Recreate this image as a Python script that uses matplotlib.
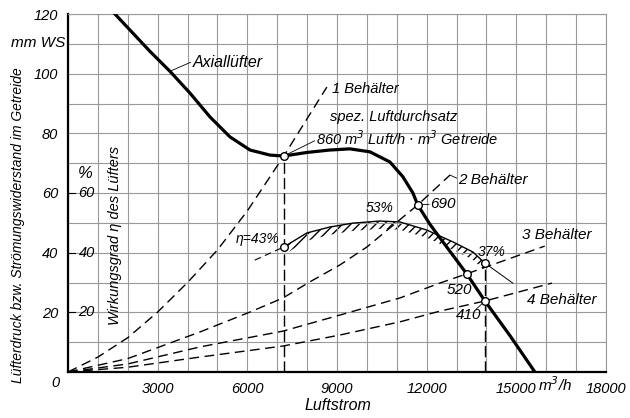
import numpy as np
import matplotlib
matplotlib.use("Agg")
from matplotlib import pyplot as plt

plt.rcParams['font.family'] = ['Liberation Sans', 'DejaVu Sans']
plt.rcParams['font.style'] = 'italic'
plt.rcParams['hatch.linewidth'] = 1.0

# Axiallüfter characteristic (m3/h, mm WS)
fan_q = [1570, 2740, 3410, 4080, 4750, 5420, 6090, 6760, 7220, 8000, 8760, 9430,
         10100, 10770, 11200, 11540, 11700, 12110, 12500, 13340, 13950, 14800, 15620]
fan_p = [120, 107.5, 100.8, 93.5, 85.5, 78.8, 74.4, 72.7, 72.4, 73.6, 74.4, 74.8,
         73.8, 70.4, 65.5, 60, 56, 49.5, 44.2, 32.9, 23.8, 12, 0]

# grain resistance for 1..4 containers
b1_q = [0, 1000, 2000, 3000, 4000, 5000, 6000, 7220, 8660]
b1_p = [0, 5, 11.5, 20.1, 30, 40.9, 54, 72.4, 95.5]
b2_q = [0, 2000, 4410, 6090, 7190, 8090, 9100, 10000, 11700, 12780]
b2_p = [0, 4.5, 13.4, 20.1, 24.8, 30.2, 35.9, 41.9, 56, 66]
b3_q = [0, 2000, 4410, 7190, 9100, 11100, 12440, 13340, 15950]
b3_p = [0, 2.7, 8.4, 13.7, 19.1, 24.8, 29.8, 32.9, 42.2]
b4_q = [0, 2000, 4410, 7190, 9100, 11100, 12440, 13950, 16190]
b4_p = [0, 1.6, 5.0, 8.7, 12.4, 16.8, 20.4, 23.8, 29.8]

# efficiency of the fan in %
eta_q = [7220, 7990, 8760, 9530, 10430, 11100, 12000, 12880, 13550, 13950]
eta_v = [41.9, 46.6, 48.6, 49.9, 50.6, 50.3, 47.6, 43.6, 40.2, 36.5]
eta_left_q = [6250, 7220]
eta_left_v = [37.5, 41.9]
eta_right_q = [13950, 14880]
eta_right_v = [36.5, 29.8]

# operating points
op_q = [7220, 11700, 13340, 13950]
op_p = [72.4, 56, 32.9, 23.8]
op_labels = ["860", "690", "520", "410"]
eta_pt_q = [7220, 13950]
eta_pt_v = [41.9, 36.5]

x_ticks = [3000, 6000, 9000, 12000, 15000, 18000]
y_ticks = [20, 40, 60, 80, 100, 120]
eta_ticks = [20, 40, 60]

fig = plt.figure(figsize=(6.3, 4.18), dpi=100)
ax = fig.add_axes([68 / 630, 46 / 418, 538 / 630, 358 / 418])
ax.set_xlim(0, 18000)
ax.set_ylim(0, 120)

ax.set_xticks(np.arange(0, 18001, 1000))
ax.set_xticklabels([str(v) if v in x_ticks else "" for v in range(0, 18001, 1000)])
ax.set_yticks(np.arange(0, 121, 10))
ax.set_yticklabels([str(v) if v in y_ticks else "" for v in range(0, 121, 10)])
ax.tick_params(axis='both', length=0, labelsize=10.5, pad=7)
ax.grid(True, color='#999999', linewidth=0.8)
for s in ['top', 'right']:
    ax.spines[s].set_color('#999999')
    ax.spines[s].set_linewidth(0.8)
for s in ['left', 'bottom']:
    ax.spines[s].set_linewidth(1.6)

dash = dict(color='black', linewidth=1.0, dashes=(7, 4))
ax.plot(b1_q, b1_p, **dash)
ax.plot(b2_q, b2_p, **dash)
ax.plot(b3_q, b3_p, **dash)
ax.plot(b4_q, b4_p, **dash)
ax.plot([op_q[0], op_q[0]], [0, op_p[0]], color='black', linewidth=1.0, dashes=(8, 3))
ax.plot([op_q[3], op_q[3]], [0, eta_pt_v[1]], color='black', linewidth=1.0, dashes=(8, 3))

ax.plot(fan_q, fan_p, color='black', linewidth=2.3, zorder=4)

ax.plot(eta_q, eta_v, color='black', linewidth=1.0)
ax.fill_between(eta_q, np.array(eta_v) - 2.6, eta_v, facecolor='none',
                edgecolor='black', hatch='////', linewidth=0)
ax.plot(eta_left_q, eta_left_v, color='black', linewidth=0.8, dashes=(6, 4))
ax.plot(eta_right_q, eta_right_v, color='black', linewidth=0.7)

ax.plot(op_q, op_p, 'o', markersize=5.5, markerfacecolor='white',
        markeredgecolor='black', markeredgewidth=1.0, zorder=5)
ax.plot(eta_pt_q, eta_pt_v, 'o', markersize=5.5, markerfacecolor='white',
        markeredgecolor='black', markeredgewidth=1.0, zorder=5)

fs = 11
ax.plot([3410, 4100], [100.8, 103.8], color='black', linewidth=0.6)
ax.text(4180, 103.8, "Axiallüfter", fontsize=11.5, va='center')
ax.text(8830, 95, "1 Behälter", fontsize=10.5, va='center')
ax.text(8760, 85.5, "spez. Luftdurchsatz", fontsize=10.5, va='center')
ax.plot([7220, 8250], [72.4, 77.5], color='black', linewidth=0.6)
ax.text(8290, 78.1, "860 m$^3$ Luft/h $\\cdot$ m$^3$ Getreide", fontsize=10.5, va='center')
ax.plot([12780, 13000], [66, 65], color='black', linewidth=0.6)
ax.text(13040, 64.4, "2 Behälter", fontsize=fs, va='center')
ax.plot([11700, 12080], [56, 56.2], color='black', linewidth=0.6)
ax.text(12110, 56.3, op_labels[1], fontsize=fs, va='center')
ax.text(10430, 55, "53%", fontsize=10, ha='center', va='center')
ax.text(7090, 44.6, "η=43%", fontsize=10, ha='right', va='center')
ax.text(15180, 45.9, "3 Behälter", fontsize=fs, va='center')
ax.text(14180, 40.2, "37%", fontsize=10, ha='center', va='center')
ax.text(13080, 27.5, op_labels[2], fontsize=fs, ha='center', va='center')
ax.text(15350, 24.1, "4 Behälter", fontsize=fs, va='center')
ax.plot([13950, 13650], [23.8, 21.0], color='black', linewidth=0.6)
ax.text(13410, 19.1, op_labels[3], fontsize=fs, ha='center', va='center')

# efficiency scale inside the axes
ax.text(570, 66.7, "%", fontsize=12, ha='center', va='center')
for v in eta_ticks:
    ax.plot([0, 250], [v, v], color='black', linewidth=0.8)
    ax.text(350, v, str(v), fontsize=10.5, va='center')
ax.text(1570, 45.9, "Wirkungsgrad η des Lüfters", fontsize=10.5, rotation=90,
        ha='center', va='center')

ax.text(-100, 110.3, "mm WS", fontsize=11, ha='right', va='center', clip_on=False)
fig.text(55 / 630, 1 - 383 / 418, "0", fontsize=10.5, ha='center', va='center')
fig.text(555 / 630, 1 - 385 / 418, "m$^3$/h", fontsize=11, ha='center', va='center')
fig.text(338 / 630, 1 - 406 / 418, "Luftstrom", fontsize=11.5, ha='center', va='center')
fig.text(18 / 630, 1 - 225 / 418, "Lüfterdruck bzw. Strömungswiderstand im Getreide",
         fontsize=10, rotation=90, ha='center', va='center')

fig.savefig("out.png", dpi=100)
